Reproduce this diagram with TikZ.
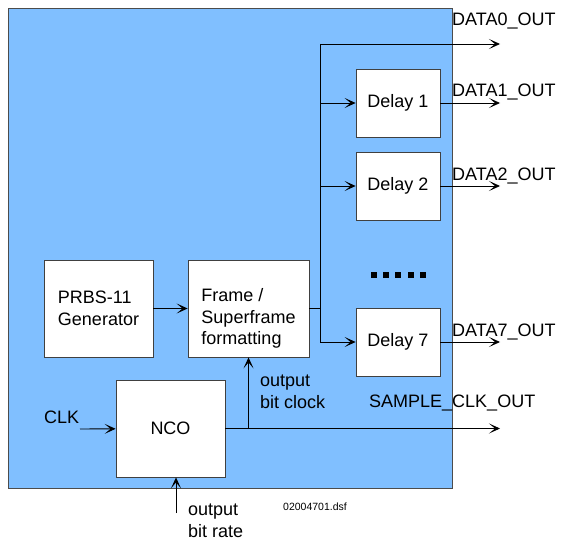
\documentclass[tikz,border=0pt]{standalone}
\usepackage{fontspec}
\setmainfont{Liberation Sans}
\usetikzlibrary{arrows.meta,calc}
\definecolor{boardblue}{RGB}{128,191,255}

\begin{document}
\begin{tikzpicture}[x=1pt,y=-1pt, font=\fontsize{18}{21.6}\selectfont,
  blk/.style={draw=black!75, fill=white, line width=0.8pt, minimum width=84pt, minimum height=68pt, inner sep=0pt},
  arr/.style={-{Stealth[length=11pt,width=10pt,inset=6pt]}, line width=0.9pt},
  wire/.style={line width=0.9pt},
  lbl/.style={anchor=west, inner sep=0pt, align=left}]
  \useasboundingbox (0,0) rectangle (562,540);
  % the board
  \node[draw=black!70, fill=boardblue, line width=0.8pt, minimum width=444pt, minimum height=480pt, inner sep=0pt] (board) at (230,248) {};
  % blocks
  \node[blk] (d1) at (398,103) {Delay 1};
  \node[blk] (d2) at (398,186) {Delay 2};
  \node[blk] (d7) at (398,342) {Delay 7};
  \node[blk, minimum width=109pt, minimum height=97pt, align=left] (prbs) at (98.5,308.5) {PRBS-11\\Generator};
  \node[blk, minimum width=121pt, minimum height=97pt] (frame) at (248.5,308.5) {};
  \node[align=left, inner sep=0pt] (frametxt) at ([yshift=-10pt]frame.center) {Frame /\\Superframe\\formatting};
  \node[blk, minimum width=109pt, minimum height=97pt] (nco) at (170.5,428.5) {NCO};
  % connectors
  \coordinate (busT) at (320,44);
  \coordinate (d0out) at (500,44);
  \coordinate (clk) at (80,429);
  \coordinate (rate) at (176,513);
  \draw[arr] (prbs) -- (frame);
  \draw[wire] (frame.east) -- (busT |- frame.east);
  \draw[arr] (d0out -| busT) -- (d0out);
  \draw[arr] (busT) -- (busT |- d7) -- (d7);
  \foreach \d in {d1,d2}
    \draw[arr] (busT |- \d) -- (\d);
  \foreach \d in {d1,d2,d7}
    \draw[arr] (\d.east) -- (\d.east -| d0out);
  \draw[arr] (clk) -- (nco);
  \draw[arr] (nco.east) -- (nco.east -| d0out);
  \draw[arr] (frame.south |- nco) -- (frame.south);
  \draw[arr] (rate) -- (rate |- nco.south);
  % dots
  \foreach \i in {0,...,4}
    \fill (371+\i*12.2,272) rectangle ++(6,6);
  % labels
  \node[lbl] (l0) at (452,21) {DATA0\_OUT};
  \node[lbl] (l1) at (452,92) {DATA1\_OUT};
  \node[lbl] (l2) at (452,176) {DATA2\_OUT};
  \node[lbl] (l7) at (452,332) {DATA7\_OUT};
  \node[lbl] (lclk) at (44,417) {CLK};
  \node[lbl] (lsclk) at (369,403) {SAMPLE\_CLK\_OUT};
  \node[lbl] (lobc) at (260,391.5) {output\\bit clock};
  \node[lbl] (lobr) at (188,521) {output\\bit rate};
  \node[lbl, font=\fontsize{10.5}{12}\selectfont] (lfile) at (283,507) {02004701.dsf};
\end{tikzpicture}
\end{document}
